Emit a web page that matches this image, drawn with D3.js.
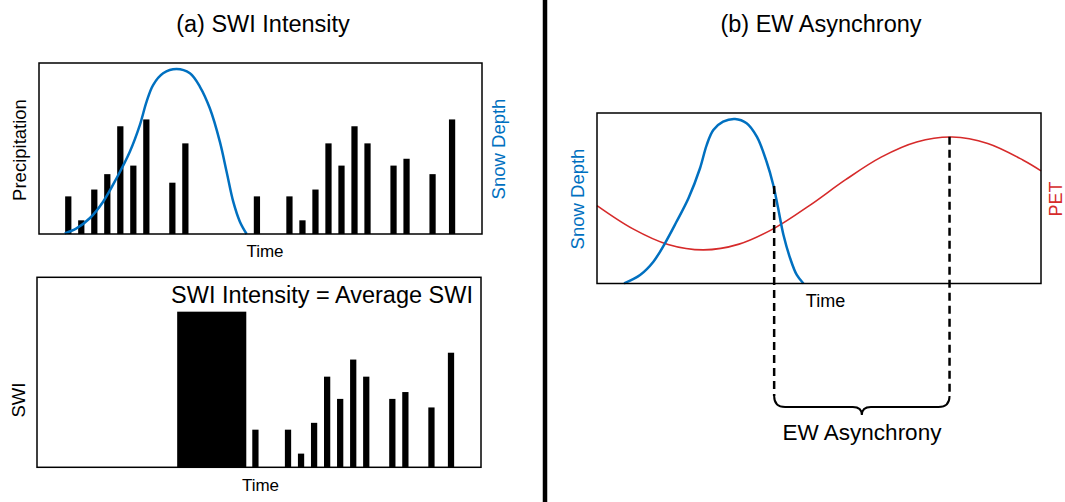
<!DOCTYPE html>
<html lang="en">
<head>
    <meta charset="UTF-8">
    <title>SWI Intensity and EW Asynchrony</title>

    <style>

        body {
            margin: 0;
            background: #fff;
        }

        text {
            font-family: "Liberation Sans", Arial, Helvetica, sans-serif;
            fill: #000;
        }

        .frame {
            fill: none;
            stroke: #000;
            stroke-width: 1.5px;
        }

    </style>

</head>
<body>

<script src="https://d3js.org/d3.v7.min.js"></script>
<script>

    const width = 1065;
    const height = 502;

    const blue = '#0070c0';
    const red = '#d62a2a';

    // precipitation bars (time step = 1 bar slot, relative units)
    const precipTime = [0, 1, 2, 3, 4, 5, 6, 8, 9, 14.5, 17, 18, 19, 20, 21, 22, 23, 25, 26, 28, 29.5];
    const precipValue = [22, 8, 26, 35, 63, 40, 67, 30, 53, 22, 22, 8, 26, 53, 40, 63, 53, 40, 44, 35, 67];

    // snow depth in panel (a)
    const snowATime = [-0.27, 0.63, 1.65, 2.68, 3.71, 4.73, 5.5, 6.02, 6.52, 7.29, 8.32, 9.35, 10.12, 10.88, 11.65, 12.17, 12.68, 13.19, 13.71];
    const snowAValue = [0.4, 3.3, 9.2, 18.9, 32.6, 48.1, 63.7, 77.4, 87.1, 94, 96.5, 94, 86.1, 73.5, 54, 36.4, 18.9, 7.2, 0];

    // melt period shown as one block of average SWI
    const meltStart = 8.5;
    const meltEnd = 13.8;
    const meltAverage = 91;
    const rainStart = 14;

    // panel (b): snow depth and PET over time
    const snowBTime = [6.1, 9.7, 12.7, 15.3, 17.9, 20.6, 23.2, 24.7, 26.2, 28.4, 31.1, 33.7, 36, 38.2, 39.7, 40.8, 42, 43.5, 45, 46.5];
    const snowBValue = [0.1, 5, 12.8, 23.6, 36.2, 50, 67.6, 81.2, 90, 94.9, 96.5, 94, 86.1, 71.4, 57.8, 44.1, 28.4, 14.8, 5, 0];

    const petTime = [0, 8, 16, 24, 32, 40, 48, 56, 64, 72, 80, 88, 96, 100];
    const petValue = [45.7, 32.2, 22.9, 19.7, 23.1, 32.5, 46, 60.9, 74.1, 83, 85.9, 82.1, 72.3, 66.1];

    // end of snow melt and PET peak
    const markTime = [39.9, 79.4];
    const markValue = [57.2, 86];

    let svg = d3.select('body').append('svg')
        .attr('width', width)
        .attr('height', height);

    // ---------- panel (a) top: precipitation + snow depth ----------
    let xTop = d3.scaleLinear().domain([-2.25, 31.8]).range([39, 482]);
    let yTop = d3.scaleLinear().domain([0, 100]).range([234, 63]);

    let panelTop = svg.append('g');

    panelTop.append('g').selectAll('rect')
        .data(d3.range(precipTime.length))
        .enter().append('rect')
        .attr('x', function (i) { return xTop(precipTime[i] - 0.24); })
        .attr('width', function (i) { return xTop(0.24) - xTop(-0.24); })
        .attr('y', function (i) { return yTop(precipValue[i]); })
        .attr('height', function (i) { return yTop(0) - yTop(precipValue[i]); })
        .attr('fill', '#000');

    let snowLineA = d3.line()
        .x(function (i) { return xTop(snowATime[i]); })
        .y(function (i) { return yTop(snowAValue[i]); })
        .curve(d3.curveCatmullRom.alpha(0.5));

    panelTop.append('path')
        .attr('d', snowLineA(d3.range(snowATime.length)))
        .attr('fill', 'none')
        .attr('stroke', blue)
        .attr('stroke-width', 2.5);

    panelTop.append('rect')
        .attr('class', 'frame')
        .attr('x', 39).attr('y', 63)
        .attr('width', 443).attr('height', 171);

    panelTop.append('text')
        .attr('x', 265).attr('y', 257)
        .attr('text-anchor', 'middle')
        .attr('font-size', 17)
        .text('Time');

    panelTop.append('text')
        .attr('transform', 'translate(26,150) rotate(-90)')
        .attr('text-anchor', 'middle')
        .attr('font-size', 18.5)
        .text('Precipitation');

    panelTop.append('text')
        .attr('transform', 'translate(505,149) rotate(-90)')
        .attr('text-anchor', 'middle')
        .attr('font-size', 18.5)
        .style('fill', blue)
        .text('Snow Depth');

    // ---------- panel (a) bottom: SWI ----------
    let xBot = d3.scaleLinear().domain([-2.25, 31.8]).range([37, 481]);
    let yBot = d3.scaleLinear().domain([0, 111.1]).range([467.3, 277.3]);

    let panelBot = svg.append('g');

    panelBot.append('rect')
        .attr('x', xBot(meltStart))
        .attr('width', xBot(meltEnd) - xBot(meltStart))
        .attr('y', yBot(meltAverage))
        .attr('height', yBot(0) - yBot(meltAverage))
        .attr('fill', '#000');

    let rainIdx = d3.range(precipTime.length).filter(function (i) { return precipTime[i] >= rainStart; });

    panelBot.append('g').selectAll('rect')
        .data(rainIdx)
        .enter().append('rect')
        .attr('x', function (i) { return xBot(precipTime[i] - 0.24); })
        .attr('width', function (i) { return xBot(0.24) - xBot(-0.24); })
        .attr('y', function (i) { return yBot(precipValue[i]); })
        .attr('height', function (i) { return yBot(0) - yBot(precipValue[i]); })
        .attr('fill', '#000');

    panelBot.append('rect')
        .attr('class', 'frame')
        .attr('x', 37).attr('y', 277.3)
        .attr('width', 444).attr('height', 190);

    panelBot.append('text')
        .attr('x', 473).attr('y', 302.5)
        .attr('text-anchor', 'end')
        .attr('font-size', 23.5)
        .text('SWI Intensity = Average SWI');

    panelBot.append('text')
        .attr('x', 260.5).attr('y', 490.5)
        .attr('text-anchor', 'middle')
        .attr('font-size', 17)
        .text('Time');

    panelBot.append('text')
        .attr('transform', 'translate(25,400) rotate(-90)')
        .attr('text-anchor', 'middle')
        .attr('font-size', 18.5)
        .text('SWI');

    // ---------- panel (b): EW asynchrony ----------
    let xB = d3.scaleLinear().domain([0, 100]).range([597, 1041]);
    let yB = d3.scaleLinear().domain([0, 100]).range([283.5, 113]);

    let panelRight = svg.append('g');

    let petLine = d3.line()
        .x(function (i) { return xB(petTime[i]); })
        .y(function (i) { return yB(petValue[i]); })
        .curve(d3.curveCatmullRom.alpha(0.5));

    panelRight.append('path')
        .attr('d', petLine(d3.range(petTime.length)))
        .attr('fill', 'none')
        .attr('stroke', red)
        .attr('stroke-width', 1.6);

    let snowLineB = d3.line()
        .x(function (i) { return xB(snowBTime[i]); })
        .y(function (i) { return yB(snowBValue[i]); })
        .curve(d3.curveCatmullRom.alpha(0.5));

    panelRight.append('path')
        .attr('d', snowLineB(d3.range(snowBTime.length)))
        .attr('fill', 'none')
        .attr('stroke', blue)
        .attr('stroke-width', 2.5);

    panelRight.append('rect')
        .attr('class', 'frame')
        .attr('x', 597).attr('y', 113)
        .attr('width', 444).attr('height', 170.5);

    const braceY = 407;
    const braceTop = 396;

    panelRight.append('g').selectAll('line')
        .data(d3.range(markTime.length))
        .enter().append('line')
        .attr('x1', function (i) { return xB(markTime[i]); })
        .attr('x2', function (i) { return xB(markTime[i]); })
        .attr('y1', function (i) { return yB(markValue[i]); })
        .attr('y2', braceTop)
        .attr('stroke', '#000')
        .attr('stroke-width', 2.5)
        .attr('stroke-dasharray', '8,5');

    let bx1 = xB(markTime[0]);
    let bx2 = xB(markTime[1]);
    let bm = (bx1 + bx2) / 2;

    let brace = d3.path();
    brace.moveTo(bx1, braceTop);
    brace.quadraticCurveTo(bx1, braceY, bx1 + 11, braceY);
    brace.lineTo(bm - 9, braceY);
    brace.quadraticCurveTo(bm, braceY, bm, braceY + 8);
    brace.quadraticCurveTo(bm, braceY, bm + 9, braceY);
    brace.lineTo(bx2 - 11, braceY);
    brace.quadraticCurveTo(bx2, braceY, bx2, braceTop);

    panelRight.append('path')
        .attr('d', brace.toString())
        .attr('fill', 'none')
        .attr('stroke', '#000')
        .attr('stroke-width', 2);

    panelRight.append('text')
        .attr('x', 825.5).attr('y', 306.5)
        .attr('text-anchor', 'middle')
        .attr('font-size', 18)
        .text('Time');

    panelRight.append('text')
        .attr('transform', 'translate(584,199) rotate(-90)')
        .attr('text-anchor', 'middle')
        .attr('font-size', 18.5)
        .style('fill', blue)
        .text('Snow Depth');

    panelRight.append('text')
        .attr('transform', 'translate(1062,199) rotate(-90)')
        .attr('text-anchor', 'middle')
        .attr('font-size', 18)
        .style('fill', red)
        .text('PET');

    panelRight.append('text')
        .attr('x', 862).attr('y', 439.5)
        .attr('text-anchor', 'middle')
        .attr('font-size', 22.5)
        .text('EW Asynchrony');

    // ---------- titles and divider ----------
    svg.append('text')
        .attr('x', 263).attr('y', 32)
        .attr('text-anchor', 'middle')
        .attr('font-size', 23.5)
        .text('(a) SWI Intensity');

    svg.append('text')
        .attr('x', 821).attr('y', 32)
        .attr('text-anchor', 'middle')
        .attr('font-size', 23.5)
        .text('(b) EW Asynchrony');

    svg.append('line')
        .attr('x1', 545).attr('x2', 545)
        .attr('y1', 0).attr('y2', height)
        .attr('stroke', '#000')
        .attr('stroke-width', 4.5);

</script>

</body>
</html>
